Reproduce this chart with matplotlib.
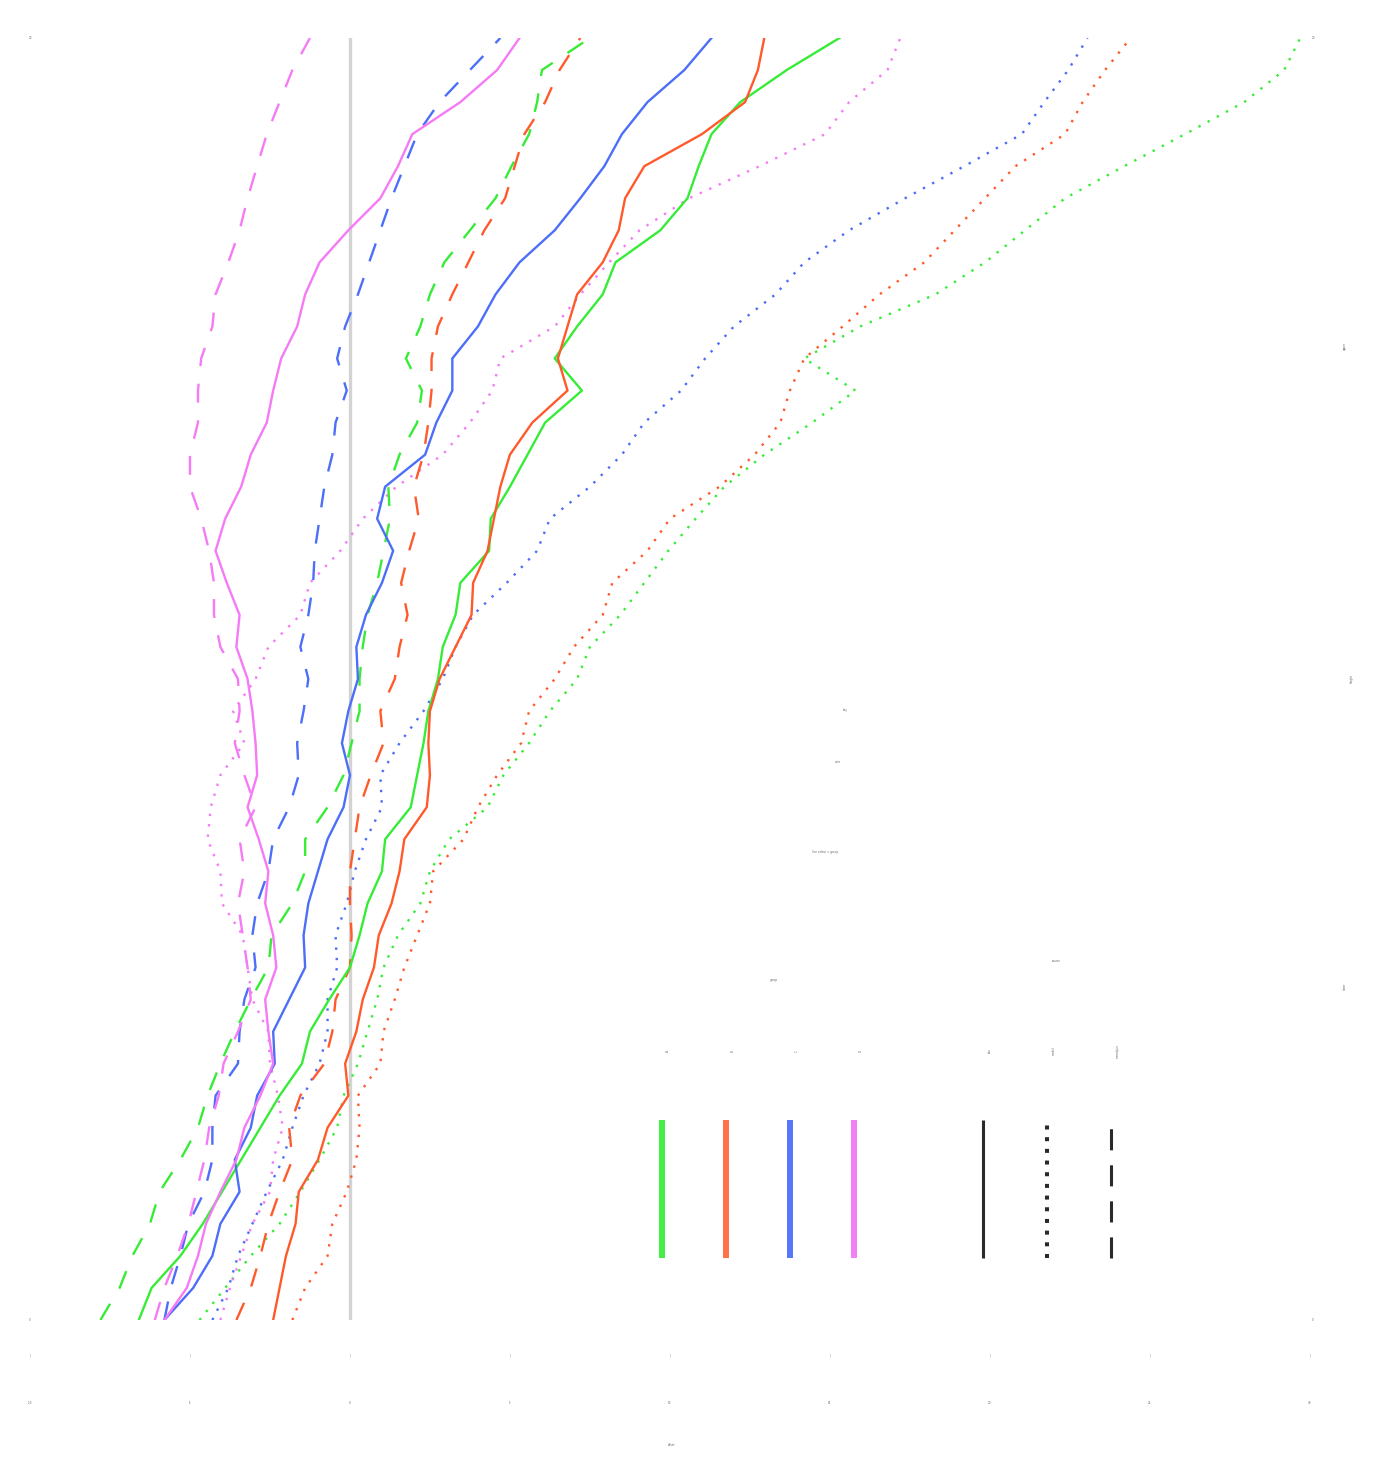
import matplotlib.pyplot as plt

# -------------------------------
# Profile data (x offset vs height)
# -------------------------------
heights = [0.0, 0.5, 1.0, 1.5, 2.0, 2.5, 3.0, 3.5, 4.0, 4.5,
           5.0, 5.5, 6.0, 6.5, 7.0, 7.5, 8.0, 8.5, 9.0, 9.5,
           10.0, 10.5, 11.0, 11.5, 12.0, 12.5, 13.0, 13.5, 14.0, 14.5,
           15.0, 15.5, 16.0, 16.5, 17.0, 17.5, 18.0, 18.5, 19.0, 19.5, 20.0]

green_solid = [-6.6, -6.2, -5.3, -4.6, -4.0, -3.4, -2.8, -2.2, -1.5, -1.25,
               -0.65, 0.0, 0.3, 0.55, 1.0, 1.1, 1.9, 2.1, 2.3, 2.45,
               2.75, 2.9, 3.3, 3.45, 4.35, 4.4, 5.0, 5.55, 6.1, 7.25,
               6.4, 7.1, 7.9, 8.3, 9.7, 10.55, 10.9, 11.3, 12.2, 13.65, 15.3]
orange_solid = [-2.4, -2.2, -2.0, -1.7, -1.6, -1.0, -0.7, -0.05, -0.15, 0.2,
                0.4, 0.75, 0.9, 1.3, 1.55, 1.7, 2.4, 2.5, 2.45, 2.5,
                2.8, 3.3, 3.8, 3.85, 4.3, 4.5, 4.7, 5.0, 5.7, 6.8,
                6.5, 6.8, 7.1, 7.9, 8.4, 8.6, 9.2, 11.0, 12.35, 12.75, 12.95]
blue_solid = [-5.8, -4.9, -4.3, -4.05, -3.45, -3.6, -3.1, -2.9, -2.35, -2.4,
              -1.9, -1.4, -1.45, -1.3, -1.0, -0.7, -0.2, 0.0, -0.25, -0.05,
              0.25, 0.2, 0.5, 1.0, 1.35, 0.85, 1.1, 2.35, 2.7, 3.2,
              3.2, 4.0, 4.55, 5.3, 6.4, 7.2, 7.95, 8.5, 9.3, 10.45, 11.3]
pink_solid = [-5.8, -5.1, -4.75, -4.5, -4.05, -3.55, -3.3, -2.8, -2.4, -2.55,
              -2.65, -2.3, -2.4, -2.65, -2.55, -2.85, -3.2, -2.9, -2.95, -3.05,
              -3.2, -3.55, -3.45, -3.85, -4.2, -3.9, -3.4, -3.1, -2.6, -2.4,
              -2.15, -1.65, -1.4, -0.95, -0.05, 0.95, 1.5, 1.95, 3.45, 4.6, 5.3]

green_dashed = [-7.8, -7.2, -6.8, -6.25, -5.95, -5.3, -4.75, -4.45, -4.05, -3.6,
                -3.1, -2.55, -2.45, -1.8, -1.4, -1.4, -0.7, -0.2, 0.05, 0.3,
                0.3, 0.4, 0.55, 0.85, 1.05, 1.25, 1.2, 1.55, 2.1, 2.25,
                1.75, 2.2, 2.5, 2.95, 3.75, 4.55, 5.05, 5.6, 5.85, 6.0, 7.5]
orange_dashed = [-3.55, -3.1, -2.8, -2.55, -2.2, -1.8, -1.9, -1.55, -0.8, -0.55,
                 -0.45, 0.0, 0.05, 0.0, 0.0, 0.15, 0.3, 0.65, 1.05, 0.95,
                 1.4, 1.55, 1.8, 1.6, 1.85, 2.15, 2.0, 2.3, 2.45, 2.55,
                 2.55, 2.75, 3.2, 3.7, 4.2, 4.85, 5.15, 5.45, 6.1, 6.55, 7.2]
blue_dashed = [-5.8, -5.6, -5.3, -5.05, -4.55, -4.3, -4.3, -4.2, -3.5, -3.45,
               -3.3, -2.95, -3.05, -2.9, -2.55, -2.4, -1.9, -1.6, -1.65, -1.45,
               -1.3, -1.55, -1.3, -1.15, -1.1, -0.95, -0.8, -0.55, -0.45, -0.1,
               -0.4, -0.15, 0.25, 0.6, 0.95, 1.3, 1.7, 2.1, 2.8, 3.75, 4.7]
pink_dashed = [-6.1, -5.8, -5.4, -5.05, -4.8, -4.55, -4.4, -4.1, -3.95, -3.5,
               -3.1, -3.2, -3.35, -3.5, -3.3, -3.45, -2.95, -3.3, -3.6, -3.45,
               -3.5, -4.05, -4.25, -4.25, -4.4, -4.65, -5.0, -5.0, -4.75, -4.75,
               -4.65, -4.3, -4.2, -3.8, -3.45, -3.2, -2.9, -2.6, -2.2, -1.8, -1.25]

green_dotted = [-4.7, -3.9, -3.1, -2.2, -1.55, -0.95, -0.4, -0.2, 0.25, 0.55,
                0.85, 1.05, 1.5, 2.2, 2.5, 3.1, 4.3, 4.8, 5.6, 6.25,
                7.1, 7.5, 8.45, 9.2, 9.95, 10.8, 11.7, 12.95, 14.45, 15.8,
                14.2, 15.95, 18.3, 19.85, 21.1, 22.35, 24.2, 26.1, 27.95, 29.2, 29.7]
orange_dotted = [-1.8, -1.4, -0.7, -0.55, -0.1, 0.2, 0.3, 0.25, 0.95, 1.05,
                 1.4, 1.7, 2.1, 2.5, 2.6, 3.55, 4.0, 4.6, 5.35, 5.6,
                 6.4, 7.0, 7.9, 8.2, 9.3, 10.0, 11.55, 12.65, 13.45, 13.75,
                 14.2, 15.4, 16.55, 17.95, 18.9, 19.85, 20.8, 22.35, 22.9, 23.6, 24.4]
blue_dotted = [-4.3, -3.8, -3.5, -3.05, -2.6, -2.1, -1.8, -1.45, -0.95, -0.7,
               -0.7, -0.4, -0.45, -0.1, 0.15, 0.5, 1.0, 0.95, 1.55, 2.3,
               2.9, 3.3, 3.85, 4.9, 5.85, 6.25, 7.5, 8.5, 9.2, 10.35,
               11.1, 12.0, 13.3, 14.2, 15.6, 17.35, 19.2, 21.0, 21.7, 22.45, 23.05]
pink_dotted = [-4.05, -3.75, -3.4, -3.05, -2.5, -2.4, -2.1, -2.25, -2.5, -2.55,
               -3.05, -3.2, -3.35, -4.0, -4.05, -4.45, -4.35, -4.05, -3.3, -3.65,
               -2.95, -2.55, -1.55, -1.25, -0.3, 0.4, 1.45, 2.9, 3.75, 4.45,
               4.7, 6.4, 7.2, 8.1, 9.05, 10.6, 12.8, 14.85, 15.6, 16.8, 17.2]

group_names = ['A', 'B', 'C', 'D']
source_names = ['obs', 'model', 'reanalysis']
x_ticks = [-10, -5, 0, 5, 10, 15, 20, 25, 30]

colors = ['#36EC36', '#FF5A2C', '#4C6EF8', '#F57AF5']
legend_colors = ['#44EE44', '#FF7048', '#5777FA', '#F47FF4']
text_color = '#666666'

# -------------------------------
# Plotting
# -------------------------------
fig = plt.figure(figsize=(13.93, 14.63), dpi=100)
ax = fig.add_axes([30 / 1393, 143 / 1463, 1283 / 1393, 1282 / 1463])

ax.axvline(0, color='#D3D3D3', lw=2.4, zorder=1)

dotted = [green_dotted, orange_dotted, blue_dotted, pink_dotted]
dashed = [green_dashed, orange_dashed, blue_dashed, pink_dashed]
solid = [green_solid, orange_solid, blue_solid, pink_solid]

for vals, c in zip(dotted, colors):
    ax.plot(vals, heights, color=c, lw=1.7, ls=(0, (1, 3.4)), zorder=2)
for vals, c in zip(dashed, colors):
    ax.plot(vals, heights, color=c, lw=1.7, ls=(0, (8, 7.5)), zorder=3)
for vals, c in zip(solid, colors):
    ax.plot(vals, heights, color=c, lw=1.7, zorder=4)

ax.set_xlim(-10, 30.1)
ax.set_ylim(0, 20)
for s in ax.spines.values():
    s.set_visible(False)
ax.set_xticks(x_ticks)
ax.set_xticklabels([str(t) for t in x_ticks], fontsize=2, color=text_color)
ax.tick_params(axis='x', length=0, pad=58)
ax.set_yticks([])
ax.set_xlabel('offset', fontsize=2, color=text_color, labelpad=28)

# small corner / side labels
ax.text(0.0, 1.0, '20', transform=ax.transAxes, fontsize=2, color=text_color,
        ha='center', va='center')
ax.text(0.0, 0.0, '0', transform=ax.transAxes, fontsize=2, color=text_color,
        ha='center', va='center')
ax.text(1.0, 1.0, '20', transform=ax.transAxes, fontsize=2, color=text_color,
        ha='center', va='center')
ax.text(1.0, 0.0, '0', transform=ax.transAxes, fontsize=2, color=text_color,
        ha='center', va='center')
ax.text(1.03, 0.5, 'height', transform=ax.transAxes, fontsize=2,
        color=text_color, rotation=90, ha='center', va='center')
ax.text(1.025, 0.76, 'upper', transform=ax.transAxes, fontsize=2,
        color=text_color, rotation=90, ha='center', va='center')
ax.text(1.025, 0.26, 'lower', transform=ax.transAxes, fontsize=2,
        color=text_color, rotation=90, ha='center', va='center')
for xt in x_ticks:
    ax.text(xt, -0.55, '|', fontsize=2, color=text_color, ha='center',
            va='center', clip_on=False)

# custom legend: vertical line samples
color_x = [0.4926, 0.5425, 0.5924, 0.6422]
style_x = [0.7428, 0.7927, 0.8425]
y0, y1 = 0.048, 0.156
for xp, c, name in zip(color_x, legend_colors, group_names):
    ax.plot([xp, xp], [y0, y1], transform=ax.transAxes, color=c, lw=4.3,
            solid_capstyle='butt')
    ax.text(xp + 0.005, 0.21, name, transform=ax.transAxes, fontsize=2,
            color=text_color, rotation=90, ha='center', va='center')
style_ls = ['-', (0, (1, 1.9)), (0, (6.9, 4.9))]
style_lw = [2.2, 2.9, 2.2]
for xp, ls, lw, name in zip(style_x, style_ls, style_lw, source_names):
    ax.plot([xp, xp], [y0, y1], transform=ax.transAxes, color='#2A2A2A',
            lw=lw, ls=ls, solid_capstyle='butt')
    ax.text(xp + 0.005, 0.21, name, transform=ax.transAxes, fontsize=2,
            color=text_color, rotation=90, ha='center', va='center')

ax.text(0.58, 0.265, 'group', transform=ax.transAxes, fontsize=2,
        color=text_color, ha='center', va='center')
ax.text(0.8, 0.28, 'source', transform=ax.transAxes, fontsize=2,
        color=text_color, ha='center', va='center')
ax.text(0.62, 0.365, 'line colour = group', transform=ax.transAxes,
        fontsize=2, color=text_color, ha='center', va='center')
ax.text(0.63, 0.435, 'note', transform=ax.transAxes, fontsize=2,
        color=text_color, ha='center', va='center')
ax.text(0.635, 0.476, 'key', transform=ax.transAxes, fontsize=2,
        color=text_color, ha='center', va='center')

plt.savefig("out.png", dpi=100)
